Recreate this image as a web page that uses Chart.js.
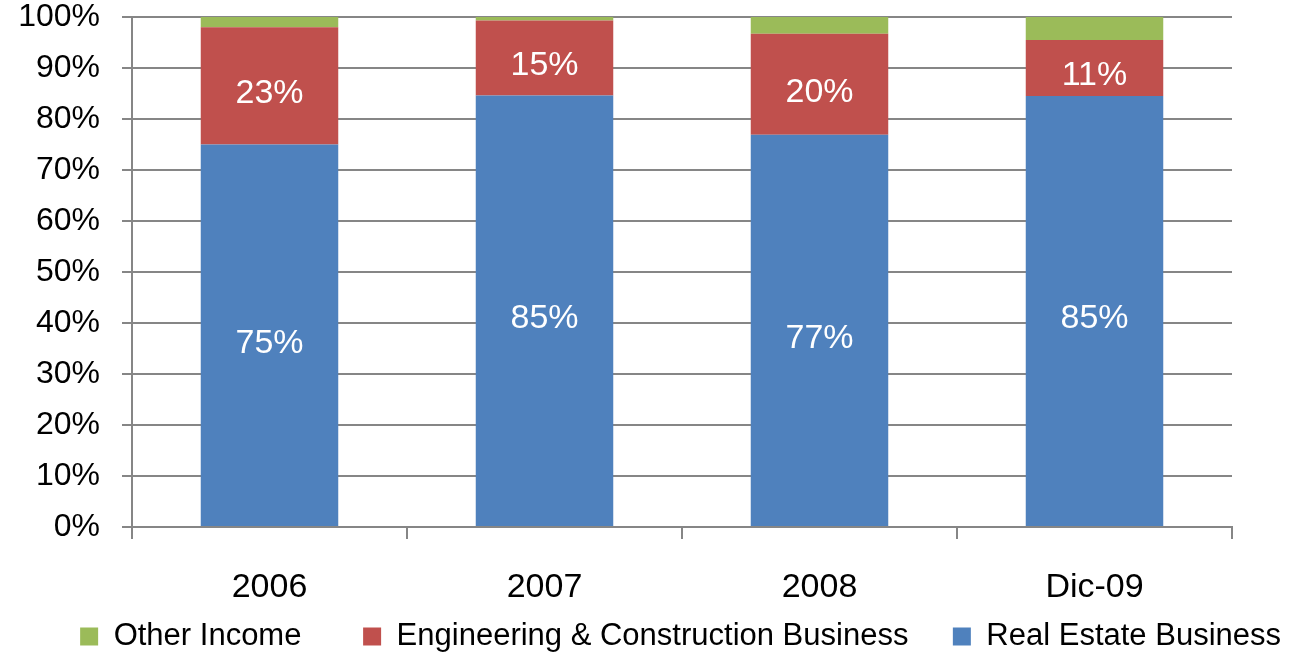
<!DOCTYPE html>
<html>
<head>
<meta charset="utf-8">
<script src="https://cdn.jsdelivr.net/npm/chart.js@4/dist/chart.umd.min.js"></script>
<style>
  html, body { margin: 0; padding: 0; background: #fff; }
  #wrap { width: 1291px; height: 653px; }
</style>
</head>
<body>
<div id="wrap"><canvas id="c" width="1291" height="653"></canvas></div>
<script>
// data (percent of income)
var years = ["2006", "2007", "2008", "Dic-09"];
var realEstate = [75, 84.6, 76.9, 84.5];
var engineering = [23, 14.7, 19.8, 11];
var otherIncome = [2, 0.7, 3.3, 4.5];
var yTicks = [0, 10, 20, 30, 40, 50, 60, 70, 80, 90, 100];

var FONT = "'Liberation Sans', Arial, Helvetica, sans-serif";
var GRID = "#868686";

// write the rounded value inside the red and blue segments
var barLabels = {
  id: "barLabels",
  afterDatasetsDraw: function (chart) {
    var ctx = chart.ctx;
    ctx.save();
    ctx.fillStyle = "#fff";
    ctx.font = "34px " + FONT;
    ctx.textAlign = "center";
    ctx.textBaseline = "middle";
    [0, 1].forEach(function (di) {
      var meta = chart.getDatasetMeta(di);
      meta.data.forEach(function (bar, i) {
        var v = chart.data.datasets[di].data[i];
        var yMid = (bar.y + bar.base) / 2;
        ctx.fillText(Math.round(v) + "%", bar.x, yMid + 8);
      });
    });
    ctx.restore();
  }
};

// extra room after the legend entries, like the original spacing
var legendGap = { 1: "\u00a0\u00a0\u00a0\u00a0", 2: "\u00a0\u00a0\u00a0\u00a0\u00a0\u00a0" };

new Chart(document.getElementById("c"), {
  type: "bar",
  data: {
    labels: years,
    datasets: [
      { label: "Real Estate Business", data: realEstate, backgroundColor: "#4f81bd" },
      { label: "Engineering & Construction Business", data: engineering, backgroundColor: "#c0504d" },
      { label: "Other Income", data: otherIncome, backgroundColor: "#9bbb59" }
    ]
  },
  options: {
    responsive: false,
    animation: false,
    devicePixelRatio: 1,
    layout: { padding: 0 },
    datasets: { bar: { barPercentage: 0.5, categoryPercentage: 1 } },
    plugins: {
      tooltip: { enabled: false },
      legend: {
        position: "bottom",
        align: "end",
        reverse: true,
        maxHeight: 42,
        labels: {
          font: { family: FONT, size: 31 },
          color: "#000",
          boxWidth: 18,
          boxHeight: 18,
          padding: 10,
          generateLabels: function (chart) {
            var items = Chart.defaults.plugins.legend.labels.generateLabels(chart);
            items.forEach(function (it) {
              if (legendGap[it.datasetIndex]) it.text += legendGap[it.datasetIndex];
            });
            return items;
          }
        }
      }
    },
    scales: {
      x: {
        stacked: true,
        grid: { drawOnChartArea: false, color: GRID, lineWidth: 2, tickLength: 12 },
        border: { color: GRID, width: 2 },
        ticks: { font: { family: FONT, size: 34 }, color: "#000", padding: 28 },
        afterFit: function (s) { s.height = 84; }
      },
      y: {
        stacked: true,
        min: 0,
        max: 100,
        afterBuildTicks: function (s) { s.ticks = yTicks.map(function (v) { return { value: v }; }); },
        grid: { color: GRID, lineWidth: 2, tickLength: 10 },
        border: { color: GRID, width: 2 },
        ticks: {
          font: { family: FONT, size: 32 },
          color: "#000",
          padding: 22,
          callback: function (v) { return v + "%"; }
        },
        afterFit: function (s) { s.width = 132; s.paddingTop = 17; s.paddingBottom = 0; }
      },
      yRight: {
        type: "linear",
        position: "right",
        grid: { display: false },
        border: { display: false },
        ticks: { display: false },
        afterFit: function (s) { s.width = 59; }
      }
    }
  },
  plugins: [barLabels]
});
</script>
</body>
</html>
